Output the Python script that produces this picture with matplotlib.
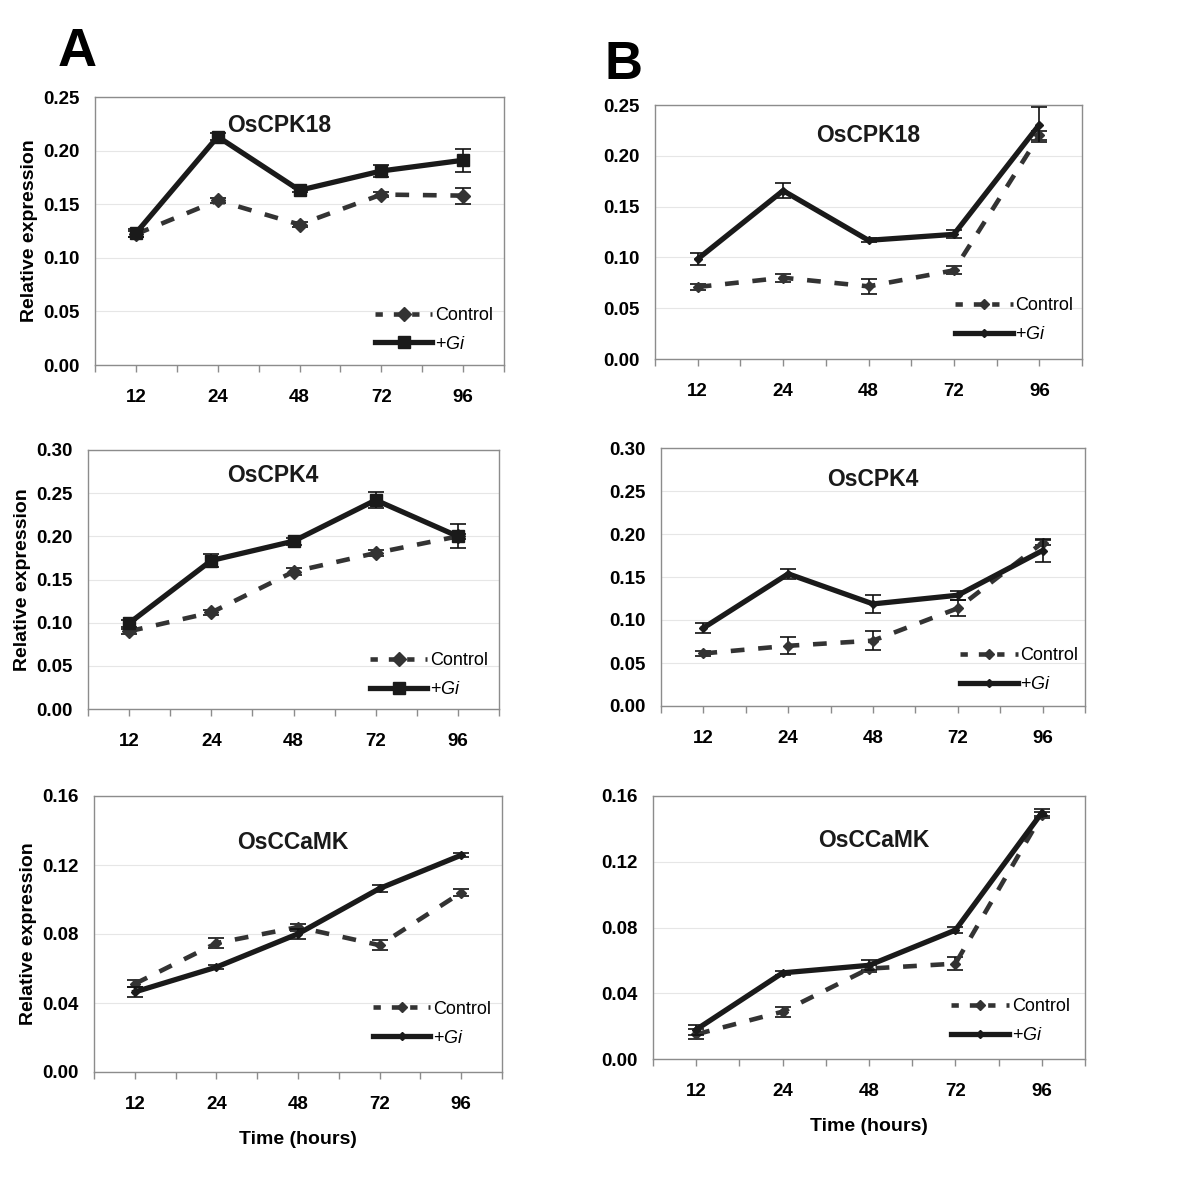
import matplotlib
matplotlib.use("Agg")
import matplotlib.pyplot as plt
from matplotlib.lines import Line2D
import numpy as np

plt.rcParams['font.family'] = ['Liberation Sans', 'DejaVu Sans']
plt.rcParams['mathtext.fontset'] = 'custom'
plt.rcParams['mathtext.it'] = 'Liberation Sans:italic'
plt.rcParams['mathtext.rm'] = 'Liberation Sans'

times = ['12', '24', '48', '72', '96']
genes = ['OsCPK18', 'OsCPK4', 'OsCCaMK']

# Panel A
A_cpk18_gi = [0.123, 0.213, 0.163, 0.181, 0.191]
A_cpk18_gi_err = [0.004, 0.003, 0.002, 0.0056, 0.0105]
A_cpk18_ctrl = [0.122, 0.1535, 0.131, 0.159, 0.158]
A_cpk18_ctrl_err = [0.003, 0.002, 0.002, 0.002, 0.0075]

A_cpk4_gi = [0.0994, 0.172, 0.1944, 0.242, 0.200]
A_cpk4_gi_err = [0.004, 0.0077, 0.004, 0.009, 0.014]
A_cpk4_ctrl = [0.090, 0.1118, 0.159, 0.1807, 0.200]
A_cpk4_ctrl_err = [0.003, 0.003, 0.004, 0.003, 0.003]

A_ccamk_gi = [0.0464, 0.0608, 0.0801, 0.1064, 0.1257]
A_ccamk_gi_err = [0.003, 0.001, 0.003, 0.002, 0.001]
A_ccamk_ctrl = [0.0511, 0.0747, 0.084, 0.0735, 0.104]
A_ccamk_ctrl_err = [0.002, 0.003, 0.002, 0.003, 0.002]

# Panel B
B_cpk18_gi = [0.0984, 0.1657, 0.1168, 0.1227, 0.2306]
B_cpk18_gi_err = [0.006, 0.0075, 0.002, 0.004, 0.017]
B_cpk18_ctrl = [0.0709, 0.080, 0.0715, 0.0873, 0.220]
B_cpk18_ctrl_err = [0.003, 0.004, 0.0072, 0.004, 0.004]

B_cpk4_gi = [0.0908, 0.1537, 0.1187, 0.1288, 0.1808]
B_cpk4_gi_err = [0.006, 0.006, 0.0105, 0.005, 0.0136]
B_cpk4_ctrl = [0.0611, 0.070, 0.076, 0.1137, 0.190]
B_cpk4_ctrl_err = [0.003, 0.0097, 0.011, 0.0093, 0.003]

B_ccamk_gi = [0.0179, 0.0524, 0.057, 0.0784, 0.1498]
B_ccamk_gi_err = [0.003, 0.001, 0.003, 0.002, 0.002]
B_ccamk_ctrl = [0.015, 0.0288, 0.055, 0.058, 0.1484]
B_ccamk_ctrl_err = [0.003, 0.003, 0.002, 0.004, 0.002]

W, H = 1200, 1177
fig = plt.figure(figsize=(W / 100, H / 100), dpi=100)

def box(l, r, t, b):
    return [l / W, (H - b) / H, (r - l) / W, (b - t) / H]

panels = [
    dict(pos=box(95, 504, 97, 365), gi=A_cpk18_gi, gie=A_cpk18_gi_err, c=A_cpk18_ctrl, ce=A_cpk18_ctrl_err,
         ymax=0.25, step=0.05, title=genes[0], tx=0.45, ty=0.895, gim='s', gims=8, cms=7,
         ylabel=True, xlabel=False, leg=(1.0, 0.006)),
    dict(pos=box(88, 499, 450, 709), gi=A_cpk4_gi, gie=A_cpk4_gi_err, c=A_cpk4_ctrl, ce=A_cpk4_ctrl_err,
         ymax=0.30, step=0.05, title=genes[1], tx=0.45, ty=0.90, gim='s', gims=8, cms=7,
         ylabel=True, xlabel=False, leg=(1.0, 0.0)),
    dict(pos=box(94, 502, 796, 1072), gi=A_ccamk_gi, gie=A_ccamk_gi_err, c=A_ccamk_ctrl, ce=A_ccamk_ctrl_err,
         ymax=0.16, step=0.04, title=genes[2], tx=0.487, ty=0.83, gim='D', gims=4, cms=5,
         ylabel=True, xlabel=True, leg=(1.0, 0.053)),
    dict(pos=box(655, 1082, 105, 359), gi=B_cpk18_gi, gie=B_cpk18_gi_err, c=B_cpk18_ctrl, ce=B_cpk18_ctrl_err,
         ymax=0.25, step=0.05, title=genes[0], tx=0.50, ty=0.88, gim='D', gims=4, cms=5,
         ylabel=False, xlabel=False, leg=(1.005, 0.02)),
    dict(pos=box(661, 1085, 448, 706), gi=B_cpk4_gi, gie=B_cpk4_gi_err, c=B_cpk4_ctrl, ce=B_cpk4_ctrl_err,
         ymax=0.30, step=0.05, title=genes[1], tx=0.50, ty=0.876, gim='D', gims=4, cms=5,
         ylabel=False, xlabel=False, leg=(1.01, 0.008)),
    dict(pos=box(653, 1085, 796, 1059), gi=B_ccamk_gi, gie=B_ccamk_gi_err, c=B_ccamk_ctrl, ce=B_ccamk_ctrl_err,
         ymax=0.16, step=0.04, title=genes[2], tx=0.51, ty=0.83, gim='D', gims=4, cms=5,
         ylabel=False, xlabel=True, leg=(0.99, 0.015)),
]

x = np.arange(len(times))
gi_col = '#1a1a1a'
c_col = '#333333'
spine_col = '#8c8c8c'

for p in panels:
    ax = fig.add_axes(p['pos'])
    ax.set_xlim(-0.5, len(times) - 0.5)
    ax.set_ylim(0, p['ymax'])
    yt = np.arange(0, p['ymax'] + 1e-9, p['step'])
    ax.set_yticks(yt)
    ax.set_yticklabels(['{:.2f}'.format(v) for v in yt], fontsize=13.5, fontweight='bold')
    ax.set_xticks(x)
    ax.set_xticklabels(times, fontsize=13.5, fontweight='bold')
    ax.set_xticks(np.arange(-0.5, len(times), 1.0), minor=True)
    ax.tick_params(axis='x', which='both', length=5, color=spine_col, width=1, pad=12)
    ax.tick_params(axis='y', length=0, pad=11)
    for s in ax.spines.values():
        s.set_color(spine_col)
        s.set_linewidth(1.0)
    ax.grid(axis='y', color='#e6e6e6', linewidth=0.8)
    ax.set_axisbelow(True)

    ax.errorbar(x, p['c'], yerr=p['ce'], color=c_col, lw=3.3, ls=(0, (3, 3)),
                marker='D', ms=p['cms'], mfc=c_col, mec=c_col,
                ecolor='#111111', elinewidth=1.2, capsize=6, capthick=1.2, zorder=3)
    ax.errorbar(x, p['gi'], yerr=p['gie'], color=gi_col, lw=3.8, ls='-',
                marker=p['gim'], ms=p['gims'], mfc=gi_col, mec=gi_col,
                ecolor='#111111', elinewidth=1.2, capsize=6, capthick=1.2, zorder=4)

    ax.text(p['tx'], p['ty'], p['title'], transform=ax.transAxes, ha='center', va='center',
            fontsize=16.5, fontweight='bold', color='#1a1a1a')

    h1 = Line2D([], [], color=c_col, lw=3.3, ls=(0, (1.6, 2.4)), marker='D', ms=p['cms'])
    h2 = Line2D([], [], color=gi_col, lw=3.8, ls='-', marker=p['gim'], ms=p['gims'])
    ax.legend([h1, h2], ['Control', '+$\\mathit{Gi}$'], loc='lower right', bbox_to_anchor=p['leg'],
              frameon=False, fontsize=13, handlelength=3.2, handletextpad=0.15, labelspacing=0.65,
              borderaxespad=0.2)

    if p['ylabel']:
        ax.set_ylabel('Relative expression', fontsize=14, fontweight='bold', labelpad=4)
    if p['xlabel']:
        ax.set_xlabel('Time (hours)', fontsize=14, fontweight='bold', labelpad=13)

fig.text(77 / W, 1 - 52 / H, 'A', fontsize=39, fontweight='bold', ha='center', va='center')
fig.text(624 / W, 1 - 65 / H, 'B', fontsize=38, fontweight='bold', ha='center', va='center')

fig.savefig('out.png', dpi=100, facecolor='white')
